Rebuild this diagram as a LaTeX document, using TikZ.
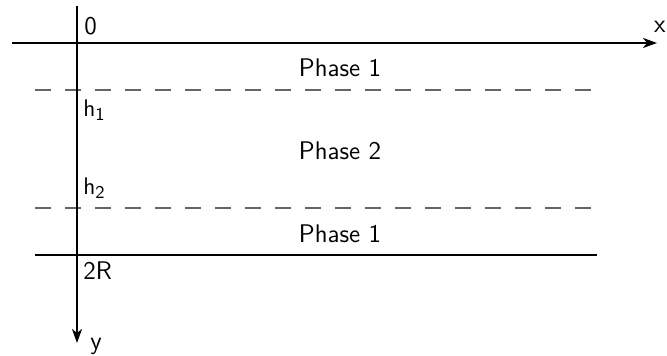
\documentclass[tikz,border=0pt]{standalone}
\usetikzlibrary{arrows.meta}
\begin{document}
\begin{tikzpicture}[x=0.5pt,y=-0.5pt,
  axis/.style={line width=1pt,-{Stealth[length=7pt,width=5pt,inset=2pt]}},
  bound/.style={line width=1pt},
  iface/.style={line width=1pt,draw=black!60,dash pattern=on 8pt off 7pt},
  lbl/.style={inner sep=0pt,anchor=base west,font=\fontsize{12.75}{15}\selectfont\sffamily},
  phase/.style={inner sep=0pt,anchor=base,font=\fontsize{12.75}{15}\selectfont\sffamily}]
\useasboundingbox (0,0) rectangle (667,356);
% coordinates
\coordinate (xs) at (12,43);
\coordinate (xe) at (657,43);
\coordinate (ys) at (77,6);
\coordinate (ye) at (77,343);
\coordinate (d1s) at (35,90);
\coordinate (d1e) at (597,90);
\coordinate (d2s) at (35,208);
\coordinate (d2e) at (597,208);
\coordinate (bs) at (35,255);
\coordinate (be) at (597,255);
% lines
\draw[iface] (d1s) -- (d1e);
\draw[iface] (d2s) -- (d2e);
\draw[bound] (bs) -- (be);
\draw[axis] (xs) -- (xe);
\draw[axis] (ys) -- (ye);
% labels
\node[inner sep=0pt,anchor=base east,font=\fontsize{12.75}{15}\selectfont\sffamily] (lx) at (666,33) {x};
\node[lbl] (l0) at (84,35) {0};
\node[lbl] (lh1) at (83,117) {$\mathsf{h_1}$};
\node[lbl] (lh2) at (83,195) {$\mathsf{h_2}$};
\node[lbl] (l2R) at (83,280) {2R};
\node[lbl] (ly) at (90,350) {y};
\node[phase] (p1) at (340,77) {Phase 1};
\node[phase] (p2) at (340,160) {Phase 2};
\node[phase] (p3) at (340,243) {Phase 1};
\end{tikzpicture}
\end{document}
